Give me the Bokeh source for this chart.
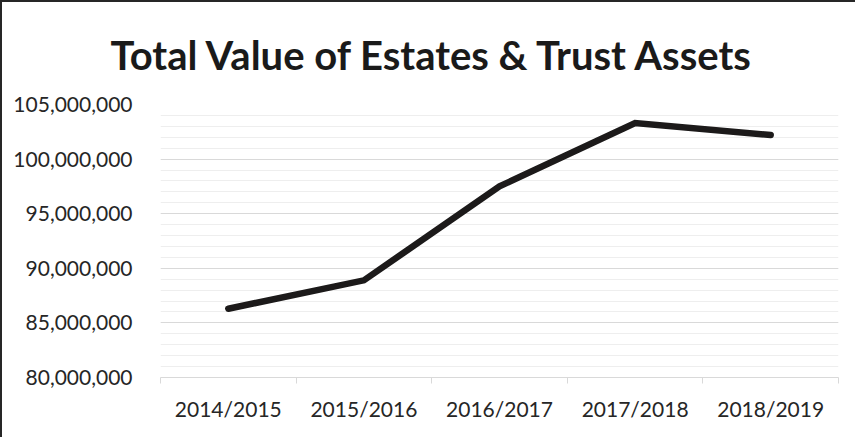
from bokeh.plotting import figure
from bokeh.models import Range1d, FixedTicker, NumeralTickFormatter
from bokeh.embed import file_html
from bokeh.resources import INLINE

title_text = "Total Value of Estates & Trust Assets"
years = ["2014/2015", "2015/2016", "2016/2017", "2017/2018", "2018/2019"]
values = [86300000, 88900000, 97500000, 103300000, 102200000]
y_major = [80000000, 85000000, 90000000, 95000000, 100000000, 105000000]
y_minor = list(range(80000000, 105000001, 1000000))

xpos = [i + 0.5 for i in range(len(years))]

p = figure(width=855, height=437, output_backend="svg", toolbar_location=None,
           x_range=Range1d(0, len(years)), y_range=Range1d(y_major[0], y_major[-1]),
           min_border_left=158, min_border_right=19, min_border_top=102, min_border_bottom=62)
p.styles = {"border-left": "2px solid #262626", "border-top": "2px solid #262626",
            "box-sizing": "border-box"}
p.outline_line_color = None
p.background_fill_color = "white"
p.border_fill_color = "white"

p.title.text = title_text
p.title.text_font = "Lato"
p.title.text_font_style = "bold"
p.title.text_font_size = "40px"
p.title.text_color = "#1a1a1a"
p.title.align = "left"
p.title.offset = -50
p.title.standoff = 51

p.line(xpos, values, line_color="#1c1a1a", line_width=6.5, line_cap="round", line_join="miter")

# x axis
p.xaxis.ticker = FixedTicker(ticks=xpos, minor_ticks=list(range(len(years) + 1)))
p.xaxis.major_label_overrides = {x: y for x, y in zip(xpos, years)}
p.xaxis.major_tick_line_color = None
p.xaxis.minor_tick_line_color = "#d9d9d9"
p.xaxis.minor_tick_out = 6
p.xaxis.minor_tick_in = 0
p.xaxis.axis_line_color = "#d9d9d9"
p.xaxis.axis_line_width = 1
p.xaxis.major_label_text_font = "Lato"
p.xaxis.major_label_text_font_size = "21px"
p.xaxis.major_label_text_color = "#262626"
p.xaxis.major_label_standoff = 12

# y axis
p.yaxis.ticker = FixedTicker(ticks=y_major, minor_ticks=y_minor)
p.yaxis.formatter = NumeralTickFormatter(format="0,0")
p.yaxis.axis_line_color = None
p.yaxis.major_tick_line_color = None
p.yaxis.minor_tick_line_color = None
p.yaxis.major_label_text_font = "Lato"
p.yaxis.major_label_text_font_size = "21px"
p.yaxis.major_label_text_color = "#262626"
p.yaxis.major_label_standoff = 22

p.xgrid.grid_line_color = None
p.ygrid.grid_line_color = "#d9d9d9"
p.ygrid.grid_line_width = 1
p.ygrid.minor_grid_line_color = "#eeeeee"
p.ygrid.minor_grid_line_width = 1

open("out.html", "w").write(file_html(p, INLINE))
